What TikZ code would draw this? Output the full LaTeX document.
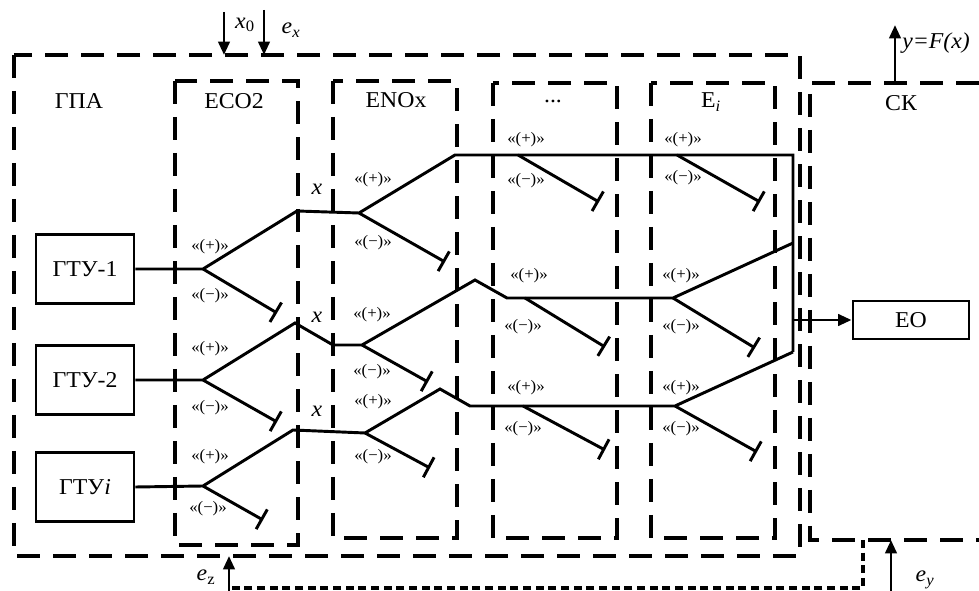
\documentclass[tikz,border=0pt]{standalone}
\usepackage{fontspec}
\setmainfont{Liberation Serif}[FakeStretch=1.05]
\usetikzlibrary{arrows.meta}
\tikzset{
  zone/.style={line width=2.5pt, dash pattern=on 17pt off 10pt},
  fbline/.style={line width=2.3pt, dash pattern=on 6pt off 3.5pt},
  wire/.style={line width=2.2pt},
  stopper/.style={wire, -{Bar[width=17pt]}},
  arr/.style={line width=2.2pt, -{Triangle[length=10pt,width=8.5pt]}},
  sig/.style={font=\fontsize{12}{14}\selectfont, inner sep=0pt},
  lbl/.style={font=\fontsize{17}{20}\selectfont, inner sep=0pt},
  unit/.style={draw, line width=2.2pt, minimum width=73.5pt, minimum height=52pt, font=\fontsize{17}{20}\selectfont},
}
\begin{document}
\begin{tikzpicture}[x=0.75pt,y=-0.75pt]
\useasboundingbox (0,0) rectangle (979,591);
% zones
\draw[zone] (14,55) rectangle (800,556);
\draw[zone] (175,81) rectangle (298,545);
\draw[zone] (333,81) rectangle (457,538);
\draw[zone] (493,83) rectangle (617,538);
\draw[zone] (651,83) rectangle (775,538);
\draw[zone] (979,83) -- (810,83) -- (810,540) -- (979,540);
% zone labels
\node[lbl] (tGPA) at (79,101) {ГПА};
\node[lbl] (tECO) at (234,101) {ECO2};
\node[lbl] (tNOX) at (396,100) {ENOx};
\node[lbl] (tDOT) at (553,101) {...};
\node[lbl] (tEI) at (711,102) {E\textsubscript{\textit{i}}};
\node[lbl] (tCK) at (901,103) {СК};
% units
\node[unit] (g1) at (85,269) {ГТУ-1};
\node[unit] (g2) at (85,380) {ГТУ-2};
\node[unit] (g3) at (85,487) {ГТУ\textit{i}};
\node[unit, minimum width=87pt, minimum height=28.5pt] (eo) at (911,320) {ЕО};
% coordinates tree 1
\coordinate (b1) at (203,269);
\coordinate (u1) at (297,211);
\coordinate (b2) at (359,213);
\coordinate (t1) at (277,313);
\coordinate (u2) at (455,155);
\coordinate (c1) at (793,155);
\coordinate (c2) at (793,352);
\coordinate (t2) at (445,262);
\coordinate (b3) at (518,155);
\coordinate (t3) at (599,202);
\coordinate (b4) at (677,155);
\coordinate (t4) at (760,202);
\coordinate (eoin) at (793,320);
% tree 2
\coordinate (d1) at (203,380);
\coordinate (d2) at (295,323);
\coordinate (d3) at (333,345);
\coordinate (d4) at (362,345);
\coordinate (t5) at (277,422);
\coordinate (t6) at (428,382);
\coordinate (d5) at (475,280);
\coordinate (d6) at (507,298);
\coordinate (d7) at (525,298);
\coordinate (t7) at (605,347);
\coordinate (d8) at (673,298);
\coordinate (t8) at (755,348);
\coordinate (d9) at (793,243);
% tree 3
\coordinate (e1) at (203,486);
\coordinate (e2) at (293,430);
\coordinate (e3) at (365,433);
\coordinate (t9) at (263,520);
\coordinate (t10) at (430,468);
\coordinate (e4) at (440,389);
\coordinate (e5) at (470,406);
\coordinate (e6) at (523,406);
\coordinate (t11) at (605,450);
\coordinate (e7) at (675,406);
\coordinate (t12) at (757,452);
% wires tree 1
\draw[wire] (g1.east) -- (b1) -- (u1) -- (b2) -- (u2) -- (c1) -- (c2);
\draw[stopper] (b1) -- (t1);
\draw[stopper] (b2) -- (t2);
\draw[stopper] (b3) -- (t3);
\draw[stopper] (b4) -- (t4);
% wires tree 2
\draw[wire] (g2.east) -- (d1) -- (d2) -- (d3) -- (d4) -- (d5) -- (d6) -- (d8) -- (d9);
\draw[stopper] (d1) -- (t5);
\draw[stopper] (d4) -- (t6);
\draw[stopper] (d7) -- (t7);
\draw[stopper] (d8) -- (t8);
% wires tree 3
\draw[wire] (g3.east) -- (e1) -- (e2) -- (e3) -- (e4) -- (e5) -- (e7) -- (c2);
\draw[stopper] (e1) -- (t9);
\draw[stopper] (e3) -- (t10);
\draw[stopper] (e6) -- (t11);
\draw[stopper] (e7) -- (t12);
% output
\draw[arr] (eoin) -- (eo.west);
% x labels
\node[lbl] (x1) at (317,189) {\textit{x}};
\node[lbl] (x2) at (317,317) {\textit{x}};
\node[lbl] (x3) at (317,411) {\textit{x}};
% sign labels
\node[sig] (p11) at (210,247) {«(+)»};
\node[sig] (m11) at (210,296) {«(−)»};
\node[sig] (p12) at (373,180) {«(+)»};
\node[sig] (m12) at (373,243) {«(−)»};
\node[sig] (p13) at (526,140) {«(+)»};
\node[sig] (m13) at (526,181) {«(−)»};
\node[sig] (p14) at (683,140) {«(+)»};
\node[sig] (m14) at (683,178) {«(−)»};
\node[sig] (p21) at (210,349) {«(+)»};
\node[sig] (m21) at (210,408) {«(−)»};
\node[sig] (p22) at (372,315) {«(+)»};
\node[sig] (m22) at (372,372) {«(−)»};
\node[sig] (p23) at (529,276) {«(+)»};
\node[sig] (m23) at (523,327) {«(−)»};
\node[sig] (p24) at (681,276) {«(+)»};
\node[sig] (m24) at (681,327) {«(−)»};
\node[sig] (p31) at (210,457) {«(+)»};
\node[sig] (m31) at (208,509) {«(−)»};
\node[sig] (p32) at (373,402) {«(+)»};
\node[sig] (m32) at (373,457) {«(−)»};
\node[sig] (p33) at (526,388) {«(+)»};
\node[sig] (m33) at (523,429) {«(−)»};
\node[sig] (p34) at (681,388) {«(+)»};
\node[sig] (m34) at (681,429) {«(−)»};
% inputs at top
\coordinate (x0s) at (224,12);
\coordinate (x0e) at (224,55);
\coordinate (exs) at (264,10);
\coordinate (exe) at (264,55);
\draw[arr] (x0s) -- (x0e);
\draw[arr] (exs) -- (exe);
\node[lbl] (lx0) at (245,25) {\textit{x}\textsubscript{0}};
\node[lbl] (lex) at (291,30) {\textit{e}\textsubscript{\textit{x}}};
% output y
\coordinate (ys) at (895,83);
\coordinate (ye) at (895,25);
\draw[arr] (ys) -- (ye);
\node[lbl, anchor=west] (ly) at (902,43) {\textit{y=F(x)}};
% bottom feedback
\coordinate (fb1) at (863,540);
\coordinate (fb2) at (863,588);
\coordinate (fb3) at (229,588);
\coordinate (ezs) at (229,591);
\coordinate (eze) at (229,556);
\draw[fbline] (fb1) -- (fb2) -- (fb3);
\draw[arr] (ezs) -- (eze);
\node[lbl] (lez) at (206,577) {\textit{e}\textsubscript{z}};
\coordinate (eys) at (891,591);
\coordinate (eye) at (891,540);
\draw[arr] (eys) -- (eye);
\node[lbl] (ley) at (925,580) {\textit{e}\textsubscript{\textit{y}}};
\end{tikzpicture}
\end{document}
